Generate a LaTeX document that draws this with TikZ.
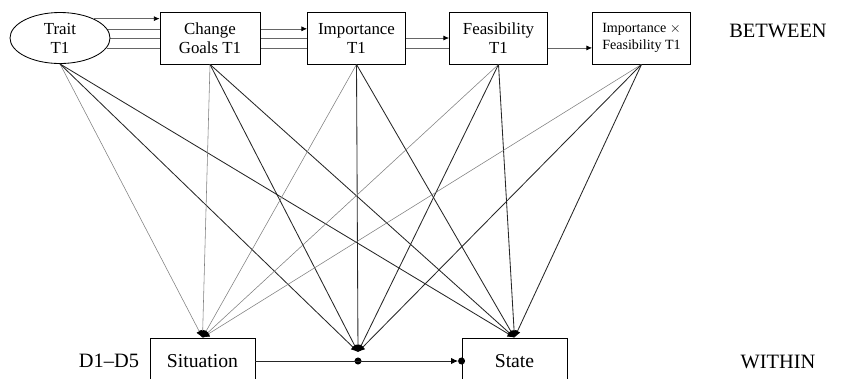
\documentclass[tikz,border=0pt]{standalone}
\usepackage{fontspec}
\setmainfont{Liberation Serif}
\usetikzlibrary{shapes.geometric,arrows.meta,backgrounds}
\newcommand{\drawPaths}[1]{
  \draw[light] (#1.south) -- (Situation.north);
  \draw[dark] (#1.south) -- (modIn);
  \draw[dark] (#1.south) -- (State.north);
}

\begin{document}
\begin{tikzpicture}[x=0.025cm, y=-0.025cm,
  box/.style={draw, fill=white, line width=0.6pt, minimum width=2.45cm, minimum height=1.3cm,
    align=center, inner sep=1pt, font=\fontsize{12}{13.5}\selectfont},
  flow/.style={draw=black!60, line width=0.45pt, -{Latex[length=4pt,width=3.5pt,color=black]}},
  light/.style={draw=black!50, line width=0.4pt, -{Latex[length=5pt,width=4.5pt,color=black]}},
  dark/.style={draw=black!85, line width=0.6pt, -{Latex[length=5pt,width=4.5pt,color=black]}},
  level/.style={font=\fontsize{14.5}{16}\selectfont},
  dot/.style={circle, fill=black, inner sep=0pt, minimum size=5pt}]
  \clip (0,0) rectangle (842,378);

  % Nodes
  \node[box, ellipse, minimum width=2.5cm, minimum height=1.275cm] (Trait) at (60,38) {Trait\\T1};
  \node[box, minimum width=2.5cm] (Change) at (210,38) {Change\\Goals T1};
  \node[box] (Importance) at (356.5,38) {Importance\\T1};
  \node[box] (Feasibility) at (498.5,38) {Feasibility\\T1};
  \node[box, font=\fontsize{10}{12}\selectfont] (ImpFeas) at (641.5,38) {Importance $\times$\\Feasibility T1};
  \node[box, minimum width=2.625cm, minimum height=1.15cm, font=\fontsize{14}{16}\selectfont] (Situation) at (202.5,361) {Situation};
  \node[box, minimum width=2.625cm, minimum height=1.15cm, font=\fontsize{14}{16}\selectfont] (State) at (514.5,361) {State};
  \node[level] (between) at (778,31) {BETWEEN};
  \node[level] (within) at (778,362) {WITHIN};
  \node[level] (days) at (109,361) {D1--D5};
  \coordinate (modIn) at (358,352);

  % Between level
  \begin{scope}[on background layer]
    \draw[flow] (Trait.30) -- (Trait.30 -| Change.west);
    \draw[flow] (Trait.11) -- (Trait.11 -| Importance.west);
    \draw[flow] (Trait.0) -- (Trait.0 -| Feasibility.west);
    \draw[flow] (Trait.-12) -- (Trait.-12 -| ImpFeas.west);
  \end{scope}

  % Cross-level
  \drawPaths{Trait}
  \drawPaths{Change}
  \drawPaths{Importance}
  \drawPaths{Feasibility}
  \drawPaths{ImpFeas}

  % Within level
  \node[dot] (slope) at (358,361) {};
  \node[dot] (stateIn) at (State.west) {};
  \draw[dark, shorten >=2.5pt] (Situation.east) -- (stateIn.center);

\end{tikzpicture}
\end{document}
